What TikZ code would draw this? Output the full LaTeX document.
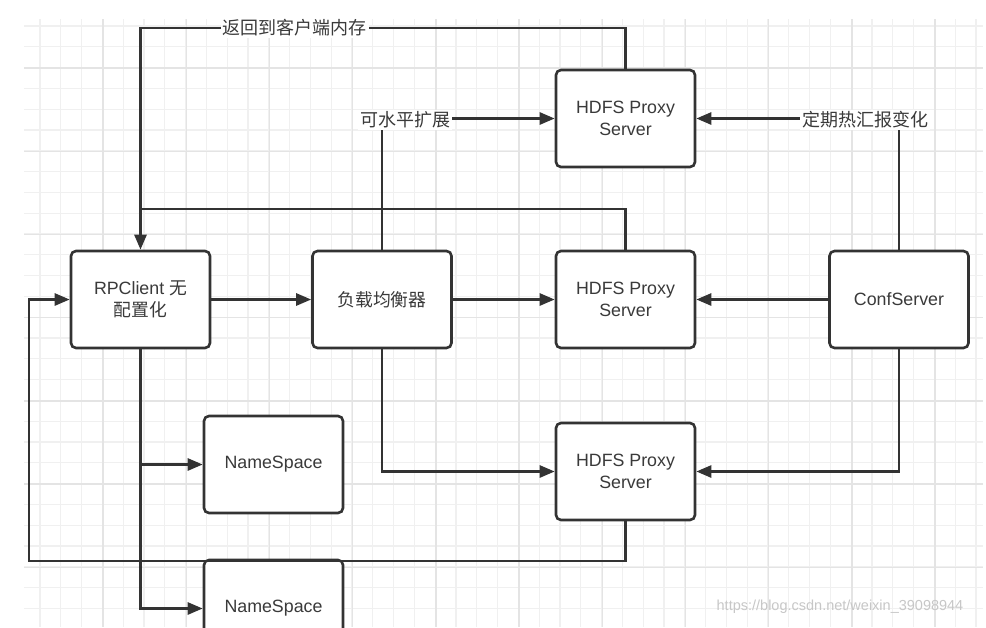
\documentclass[tikz,border=0pt]{standalone}
\usepackage{fontspec}
\setmainfont{Liberation Sans}
\newfontfamily\cjk{Noto Sans CJK SC}
\usetikzlibrary{arrows.meta}
\definecolor{ink}{HTML}{333333}
\definecolor{txt}{HTML}{3A3A3A}
\definecolor{gridminor}{HTML}{F0F0F0}
\definecolor{gridmajor}{HTML}{E4E4E4}
\tikzset{
  box/.style={draw=ink, line width=2.6pt, rounded corners=5pt, fill=white,
    minimum width=139pt, minimum height=97pt, align=center, text=txt,
    font=\fontsize{17.8}{21.5}\selectfont, inner sep=0pt},
  conn/.style={draw=ink, line width=2.6pt},
  arr/.style={conn, -{Triangle[length=15pt,width=12pt]}},
  lab/.style={fill=white, text=txt, inner sep=2pt, font=\cjk\fontsize{18}{20}\selectfont},
}
\begin{document}
\begin{tikzpicture}[x=1pt,y=-1pt]
\useasboundingbox (0,0) rectangle (986,627);
\clip (0,0) rectangle (986,627);
\fill[white] (0,0) rectangle (986,627);
% grid
\foreach \i in {0,...,45} {\draw[gridminor, line width=1.2pt] ({40+20.8*\i},19) -- ({40+20.8*\i},627);}
\foreach \i in {0,...,29} {\draw[gridminor, line width=1.2pt] (24,{26+20.8*\i}) -- (983,{26+20.8*\i});}
\foreach \i in {1,...,11} {\draw[gridmajor, line width=1.4pt] ({19.8+83.2*\i},19) -- ({19.8+83.2*\i},627);}
\foreach \i in {0,...,7} {\draw[gridmajor, line width=1.4pt] (24,{68+83.2*\i}) -- (983,{68+83.2*\i});}

% nodes
\node[box] (rpc) at (140.5,299.5) {RPClient {\cjk 无}\\{\cjk 配置化}};
\node[box] (lb)  at (382,299.5) {\cjk 负载均衡器};
\node[box] (hT)  at (625.5,118.5) {HDFS Proxy\\Server};
\node[box] (hM)  at (625.5,299.5) {HDFS Proxy\\Server};
\node[box] (cs)  at (899,299.5) {ConfServer};
\node[box] (hB)  at (625.5,471.5) {HDFS Proxy\\Server};
\node[box] (ns1) at (273.5,464.5) {NameSpace};
\node[box] (ns2) at (273.5,608.5) {NameSpace};

\coordinate (c1) at (625.5,28);
\coordinate (c2) at (140.5,209);
\coordinate (c3) at (29,561);

% connectors
\draw[arr] (hT.north) -- (c1) -| (rpc.north);
\draw[conn] (hM.north) |- (c2);
\draw[arr] (lb.north) |- (hT.west);
\draw[arr] (cs.north) |- (hT.east);
\draw[arr] (rpc.east) -- (lb.west);
\draw[arr] (lb.east) -- (hM.west);
\draw[arr] (cs.west) -- (hM.east);
\draw[arr] (lb.south) |- (hB.west);
\draw[arr] (cs.south) |- (hB.east);
\draw[arr] (hB.south) |- (c3) |- (rpc.west);
\draw[arr] (rpc.south) |- (ns1.west);
\draw[arr] (rpc.south) |- (ns2.west);

% labels
\node[lab] (l1) at (294.5,28) {返回到客户端内存};
\node[lab] (l2) at (405,120) {可水平扩展};
\node[lab] (l3) at (865,120) {定期热汇报变化};

% watermark
\node[text=black!22, font=\fontsize{14.5}{16}\selectfont, inner sep=0pt] (wm) at (840,607) {https://blog.csdn.net/weixin\_39098944};
\end{tikzpicture}
\end{document}
